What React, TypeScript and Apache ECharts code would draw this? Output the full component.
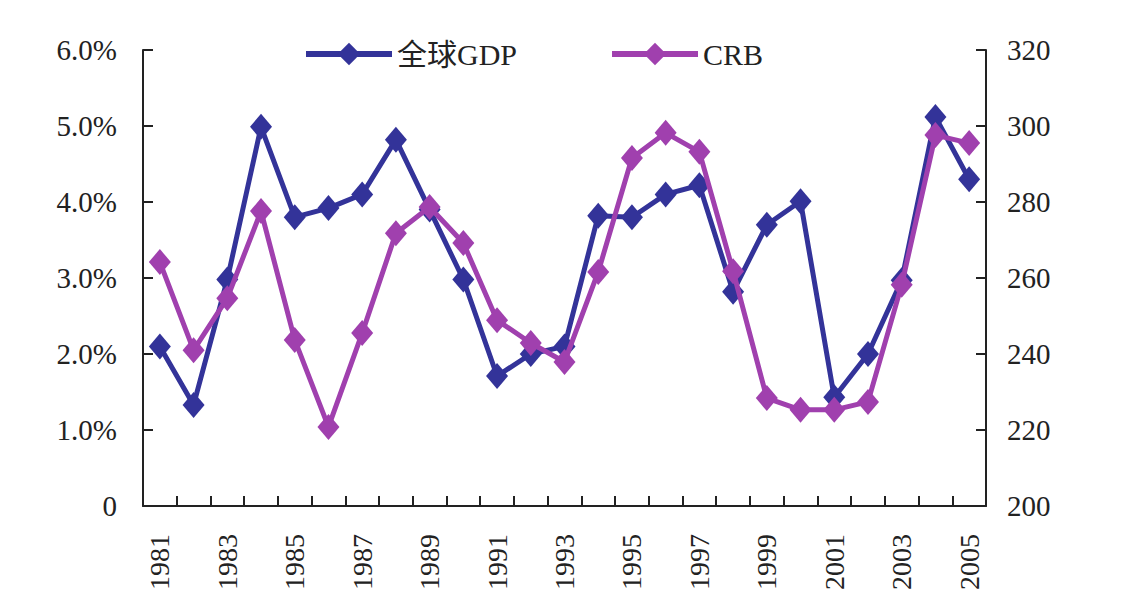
import React, { useEffect, useRef } from "react";
import * as echarts from "echarts";

const years = ["1981","1982","1983","1984","1985","1986","1987","1988","1989","1990","1991","1992","1993","1994","1995","1996","1997","1998","1999","2000","2001","2002","2003","2004","2005"];
const gdp = [2.1,1.33,2.98,4.99,3.8,3.92,4.1,4.82,3.9,2.98,1.71,2.0,2.1,3.82,3.8,4.1,4.22,2.82,3.7,4.01,1.43,2.0,2.97,5.12,4.3];
const crb = [264.2,241,254.7,277.6,243.7,220.8,245.5,271.8,278.7,269.2,248.9,242.9,237.9,261.6,291.6,298.2,293.2,261.8,228.4,225.3,225.3,227.4,258.2,297.6,295.5];
const seriesNames = ["全球GDP", "CRB"];
const colors = ["#333399", "#A040AE"];

const FONT = "'Liberation Serif', 'Times New Roman', 'Noto Sans CJK SC', serif";

export default function App() {
  const ref = useRef<HTMLDivElement>(null);
  useEffect(() => {
    if (!ref.current) return;
    const chart = echarts.init(ref.current, null, { renderer: "svg" });
    const axisLine = { show: true, lineStyle: { color: "#222", width: 2 } };
    const axisTick = { show: true, inside: true, length: 10, lineStyle: { color: "#222", width: 2 } };
    chart.setOption({
      animation: false,
      backgroundColor: "#fff",
      legend: {
        top: 34,
        left: 298,
        itemWidth: 86,
        itemHeight: 28,
        itemGap: 92,
        textStyle: { fontFamily: FONT, fontSize: 30, color: "#222" },
        data: seriesNames.map((n, i) => ({
          name: n,
          lineStyle: { color: colors[i], width: 6 },
          itemStyle: { color: colors[i] },
        })),
      },
      grid: { left: 143, right: 148, top: 50, bottom: 109, containLabel: false },
      xAxis: {
        type: "category",
        data: years,
        boundaryGap: true,
        axisLine,
        axisTick: { ...axisTick, interval: 0, alignWithLabel: false },
        axisLabel: { interval: 1, rotate: 90, margin: 28, fontFamily: FONT, fontSize: 28, color: "#222" },
        splitLine: { show: false },
      },
      yAxis: [
        {
          type: "value",
          min: 0,
          max: 6,
          interval: 1,
          axisLine,
          axisTick,
          splitLine: { show: false },
          axisLabel: {
            margin: 26,
            fontFamily: FONT,
            fontSize: 29,
            color: "#222",
            formatter: (v: number) => (v === 0 ? "0" : v.toFixed(1) + "%"),
          },
        },
        {
          type: "value",
          min: 200,
          max: 320,
          interval: 20,
          position: "right",
          axisLine,
          axisTick,
          splitLine: { show: false },
          axisLabel: { margin: 21, fontFamily: FONT, fontSize: 29, color: "#222" },
        },
      ],
      series: [
        {
          name: seriesNames[0],
          type: "line",
          data: gdp,
          yAxisIndex: 0,
          symbol: "diamond",
          symbolSize: [22, 26],
          showSymbol: true,
          showAllSymbol: true,
          itemStyle: { color: colors[0] },
          lineStyle: { color: colors[0], width: 5 },
          z: 2,
        },
        {
          name: seriesNames[1],
          type: "line",
          data: crb,
          yAxisIndex: 1,
          symbol: "diamond",
          symbolSize: [22, 26],
          showSymbol: true,
          showAllSymbol: true,
          itemStyle: { color: colors[1] },
          lineStyle: { color: colors[1], width: 5 },
          z: 3,
        },
      ],
    });
    return () => chart.dispose();
  }, []);
  return <div ref={ref} style={{ width: 1134, height: 615, position: "absolute", left: 0, top: 0 }} />;
}
